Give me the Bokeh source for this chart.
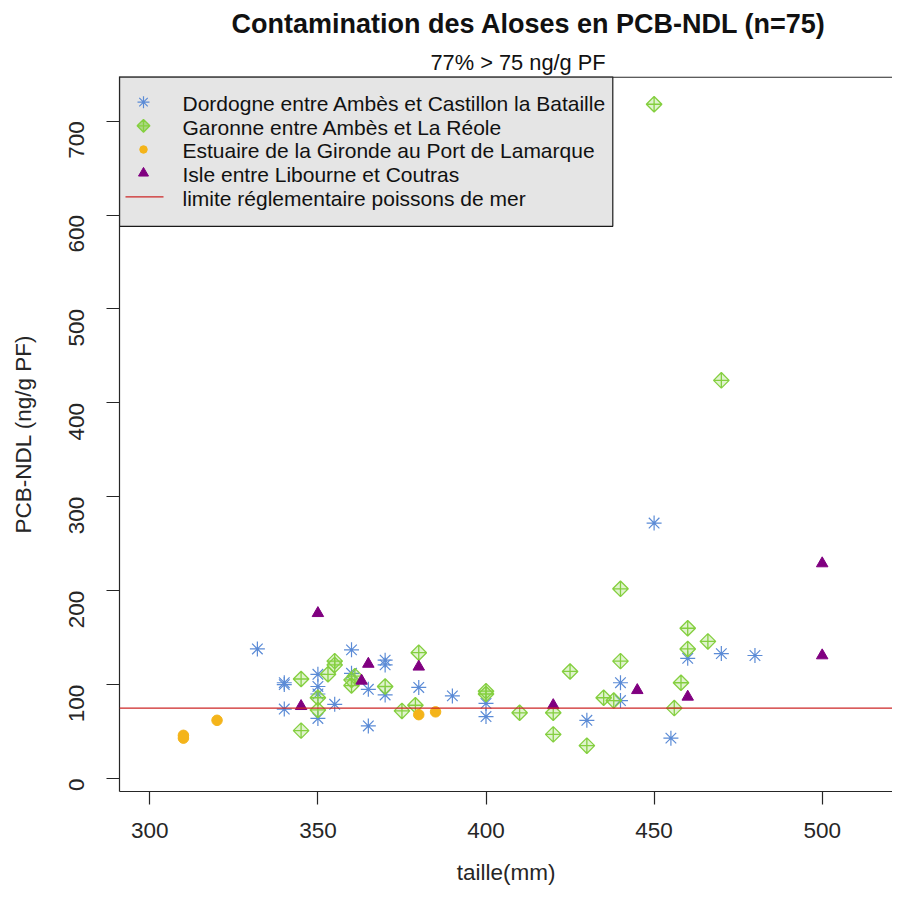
import math
from bokeh.plotting import figure
from bokeh.models import Range1d, Span, FixedTicker, Title
from bokeh.core.properties import value
from bokeh.embed import file_html
from bokeh.resources import INLINE

# ---------------- data ----------------
dordogne_taille = [332, 340, 340, 340, 350, 350, 350, 350, 355, 360, 360, 365, 365,
                   370, 370, 370, 380, 390, 400, 400, 430, 440, 440, 450, 455, 460, 470, 480]
dordogne_pcb = [138, 102, 100, 74, 111, 98, 90, 64, 79, 137, 112, 95, 56,
                126, 121, 89, 97, 88, 80, 66, 62, 102, 83, 272, 43, 128, 133, 131]

garonne_taille = [345, 345, 350, 350, 353, 355, 355, 360, 361, 360, 370, 375, 379, 380,
                  400, 400, 410, 420, 420, 425, 430, 435, 438, 440, 440, 450, 456, 458,
                  460, 460, 466, 470]
garonne_pcb = [106, 51, 86, 73, 111, 125, 121, 105, 109, 99, 98, 72, 78, 134,
               93, 90, 70, 70, 47, 114, 35, 86, 83, 125, 202, 718, 75, 102,
               138, 160, 146, 424]

estuaire_taille = [310, 310, 320, 380, 385]
estuaire_pcb = [46, 43, 62, 68, 71]

isle_taille = [345, 350, 363, 365, 380, 420, 445, 460, 500, 500]
isle_pcb = [77, 176, 104, 122, 119, 78, 94, 87, 229, 131]

LIMIT = 75

x_ticks = [300, 350, 400, 450, 500]
y_ticks = [0, 100, 200, 300, 400, 500, 600, 700]

TITLE = "Contamination des Aloses en PCB-NDL (n=75)"
SUBTITLE = "77% > 75 ng/g PF"
XLABEL = "taille(mm)"
YLABEL = "PCB-NDL (ng/g PF)"
legend_labels = ["Dordogne entre Ambès et Castillon la Bataille",
                 "Garonne entre Ambès et La Réole",
                 "Estuaire de la Gironde au Port de Lamarque",
                 "Isle entre Libourne et Coutras",
                 "limite réglementaire poissons de mer"]

# ---------------- styles ----------------
FONT = "Liberation Sans"
BLUE = "#5b8bd6"
GREEN = "#84cf3f"
ORANGE = "#f4b41a"
PURPLE = "#800080"
RED = "#cd2626"
INK = "#262626"

# ---------------- layout (picture pixels -> data) ----------------
W, H = 892, 887
FR_L, FR_R, FR_T, FR_B = 119, W, 76, 792         # frame edges
X0_PX, X_SCALE = 149.3, 3.362                    # px of x=300, px per mm
Y0_PX, Y_SCALE = 779.0, 0.9404                   # px of y=0, px per unit


def xd(px):
    return 300 + (px - X0_PX) / X_SCALE


def yd(py):
    return (Y0_PX - py) / Y_SCALE


p = figure(width=W, height=H,
           x_range=Range1d(xd(FR_L), xd(FR_R)),
           y_range=Range1d(yd(FR_B), yd(FR_T)),
           output_backend="svg", toolbar_location=None,
           min_border_left=FR_L, min_border_right=0,
           min_border_top=FR_T, min_border_bottom=H - FR_B)
p.xgrid.grid_line_color = None
p.ygrid.grid_line_color = None
p.outline_line_color = None
p.background_fill_color = "white"
p.border_fill_color = "white"

# axes
for ax in (p.xaxis[0], p.yaxis[0]):
    ax.axis_line_color = INK
    ax.axis_line_width = 1.2
    ax.major_tick_line_color = INK
    ax.major_tick_line_width = 1.2
    ax.major_tick_out = 13
    ax.major_tick_in = 0
    ax.minor_tick_out = 0
    ax.minor_tick_in = 0
    ax.major_label_text_font = FONT
    ax.major_label_text_font_size = "22.5px"
    ax.major_label_text_color = INK
    ax.axis_label_text_font = FONT
    ax.axis_label_text_font_size = "22.5px"
    ax.axis_label_text_font_style = "normal"
    ax.axis_label_text_color = INK
p.xaxis.ticker = FixedTicker(ticks=x_ticks)
p.yaxis.ticker = FixedTicker(ticks=y_ticks)
p.xaxis.major_label_standoff = 18
p.yaxis.major_label_standoff = 30
p.yaxis.major_label_orientation = math.pi / 2
p.yaxis.axis_label = YLABEL
p.yaxis.axis_label_standoff = 23
p.xaxis.axis_label = XLABEL
p.xaxis.axis_label_standoff = 19

# top edge of the plot box
p.add_layout(Span(location=yd(FR_T + 0.6), dimension="width",
                  line_color=INK, line_width=1.2))

# ---------------- legend box (drawn by hand) ----------------
LEG_L, LEG_T, LEG_R, LEG_B = FR_L, FR_T, 612.3, 226
rows = [101.7 + i * 23.7 for i in range(5)]
SYM_X = 143
TXT_X = 182
p.quad(left=[xd(LEG_L)], right=[xd(LEG_R)], top=[yd(LEG_T)], bottom=[yd(LEG_B)],
       fill_color="#e5e5e5", line_color="#1a1a1a", line_width=1.2)
p.scatter(x=[xd(SYM_X)], y=[yd(rows[0])], marker="asterisk", size=12,
          line_color=BLUE, line_width=1.2)
p.scatter(x=[xd(SYM_X)], y=[yd(rows[1])], marker="square_x", angle=math.pi / 4,
          size=9, line_color=GREEN, fill_color=GREEN, fill_alpha=0.6, line_width=1.3)
p.scatter(x=[xd(SYM_X)], y=[yd(rows[2])], marker="circle", size=7.5,
          fill_color=ORANGE, line_color=ORANGE)
p.scatter(x=[xd(SYM_X)], y=[yd(rows[3])], marker="triangle", size=10,
          fill_color=PURPLE, line_color=PURPLE)
p.segment(x0=[xd(125)], x1=[xd(163)], y0=[yd(rows[4])], y1=[yd(rows[4])],
          line_color=RED, line_width=1.3)
p.text(x=[xd(TXT_X)] * 5, y=[yd(r + 1.5) for r in rows], text=legend_labels,
       text_font=value(FONT), text_font_size="21px", text_color="#111111",
       text_align="left", text_baseline="alphabetic")

# ---------------- data points ----------------
p.scatter(dordogne_taille, dordogne_pcb, marker="asterisk", size=15,
          line_color=BLUE, line_width=1.2)
p.scatter(garonne_taille, garonne_pcb, marker="square_x", angle=math.pi / 4,
          size=11, line_color=GREEN, fill_color=GREEN, fill_alpha=0.25,
          line_width=1.3)
p.scatter(estuaire_taille, estuaire_pcb, marker="circle", size=10.5,
          fill_color=ORANGE, line_color=ORANGE)
p.scatter(isle_taille, isle_pcb, marker="triangle", size=11.5,
          fill_color=PURPLE, line_color=PURPLE)

p.add_layout(Span(location=LIMIT, dimension="width", line_color=RED, line_width=1.3))

# ---------------- titles (subtitle closest to the frame) ----------------
p.add_layout(Title(text=SUBTITLE, align="left", offset=430 - FR_L, standoff=3,
                   text_font=FONT, text_font_size="21.8px", text_font_style="normal",
                   text_color="#111111"), "above")
p.add_layout(Title(text=TITLE, align="left", offset=231 - FR_L, standoff=12,
                   vertical_align="top",
                   text_font=FONT, text_font_size="27px", text_font_style="bold",
                   text_color="#111111"), "above")

open("out.html", "w").write(file_html(p, INLINE))
